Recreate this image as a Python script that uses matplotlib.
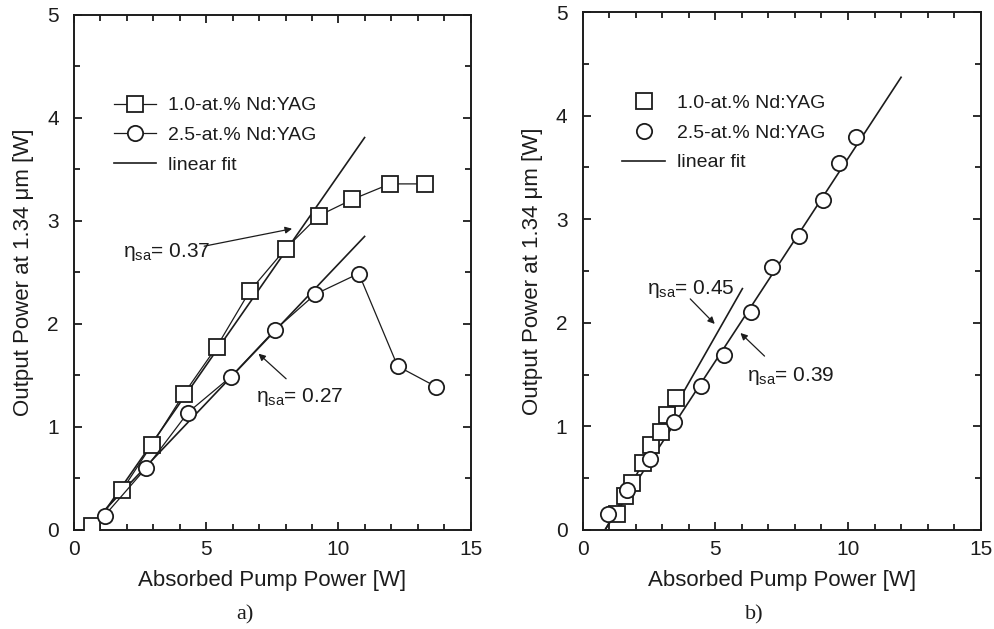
"""Output power vs absorbed pump power for two Nd:YAG doping levels."""

import numpy as np
import matplotlib.pyplot as plt
from matplotlib.ticker import MultipleLocator

plt.rcParams['font.family'] = ['Liberation Sans', 'DejaVu Sans']
plt.rcParams['mathtext.default'] = 'regular'

INK = '#1c1c1c'

# panel a) data
a_sq_x = [0.68, 1.83, 2.95, 4.15, 5.40, 6.65, 8.00, 9.25, 10.53, 11.95, 13.26]
a_sq_y = [0.04, 0.39, 0.83, 1.32, 1.78, 2.32, 2.73, 3.05, 3.21, 3.36, 3.36]
a_ci_x = [1.16, 2.72, 4.31, 5.94, 7.59, 9.13, 10.77, 12.24, 13.70]
a_ci_y = [0.14, 0.60, 1.14, 1.49, 1.94, 2.29, 2.49, 1.59, 1.39]
a_fit1_x = [0.75, 10.99]
a_fit1_y = [0.03, 3.81]
a_fit2_x = [1.00, 10.99]
a_fit2_y = [0.15, 2.85]

# panel b) data
b_sq_x = [1.28, 1.60, 1.85, 2.26, 2.58, 2.94, 3.19, 3.52]
b_sq_y = [0.15, 0.33, 0.45, 0.65, 0.82, 0.95, 1.11, 1.27]
b_ci_x = [0.97, 1.66, 2.54, 3.44, 4.46, 5.33, 6.33, 7.12, 8.17, 9.07, 9.67, 10.30]
b_ci_y = [0.15, 0.39, 0.69, 1.04, 1.39, 1.69, 2.10, 2.54, 2.84, 3.19, 3.54, 3.79]
b_fit1_x = [0.84, 6.02]
b_fit1_y = [0.0, 2.33]
b_fit2_x = [0.84, 12.0]
b_fit2_y = [0.0, 4.37]

labels = ['1.0-at.% Nd:YAG', '2.5-at.% Nd:YAG', 'linear fit']
ylabel = 'Output Power at 1.34 \u03bcm [W]'
xlabel = 'Absorbed Pump Power [W]'

fig = plt.figure(figsize=(9.94, 6.29), dpi=100)
ax1 = fig.add_axes([0.0744, 0.1574, 0.3991, 0.8188])
ax2 = fig.add_axes([0.5862, 0.1574, 0.4004, 0.8235])


def style_axes(ax):
    ax.set_xlim(0, 15)
    ax.set_ylim(0, 5)
    ax.xaxis.set_major_locator(MultipleLocator(5))
    ax.xaxis.set_minor_locator(MultipleLocator(1))
    ax.yaxis.set_major_locator(MultipleLocator(1))
    ax.yaxis.set_minor_locator(MultipleLocator(0.5))
    ax.tick_params(which='both', direction='in', top=True, right=True,
                   width=1.3, colors=INK, labelsize=15)
    ax.tick_params(which='major', length=6, pad=7)
    ax.tick_params(axis='y', which='major', pad=11)
    ax.tick_params(which='minor', length=4)
    for s in ax.spines.values():
        s.set_linewidth(1.4)
        s.set_color(INK)
    ax.set_xlabel(xlabel, fontsize=16, color=INK, labelpad=8)
    ax.set_ylabel(ylabel, fontsize=16, color=INK, labelpad=9)


def eta(ax, x, y, val):
    ax.text(x, y, r'$\eta_{sa}$= ' + val, fontsize=15, va='center', color=INK)


def arrow(ax, start, end):
    ax.annotate('', xy=end, xytext=start,
                arrowprops=dict(arrowstyle='-|>', color=INK, lw=0.9,
                                mutation_scale=10))


def legend(ax):
    ax.legend(loc='upper left', bbox_to_anchor=(0.10, 0.841), frameon=False,
              fontsize=14, handlelength=2.2, handletextpad=0.6,
              labelspacing=0.62, borderpad=0, borderaxespad=0, labelcolor=INK)


mk = dict(markersize=11, markerfacecolor='white', markeredgecolor=INK,
          markeredgewidth=1.3, color=INK)

# panel a
ax1.plot(a_sq_x, a_sq_y, marker='s', lw=0.9, label=labels[0], zorder=3, **mk)
ax1.plot(a_ci_x, a_ci_y, marker='o', lw=0.9, label=labels[1], zorder=3, **mk)
ax1.plot(a_fit1_x, a_fit1_y, color=INK, lw=1.2, label=labels[2], zorder=2)
ax1.plot(a_fit2_x, a_fit2_y, color=INK, lw=1.2, zorder=2)
style_axes(ax1)
eta(ax1, 1.85, 2.70, '0.37')
arrow(ax1, (4.82, 2.75), (8.35, 2.93))
eta(ax1, 6.90, 1.29, '0.27')
arrow(ax1, (8.10, 1.45), (6.90, 1.73))
legend(ax1)

# panel b
ax2.plot(b_sq_x, b_sq_y, marker='s', ls='none', label=labels[0], zorder=3, **mk)
ax2.plot(b_ci_x, b_ci_y, marker='o', ls='none', label=labels[1], zorder=4, **mk)
ax2.plot(b_fit1_x, b_fit1_y, color=INK, lw=1.2, label=labels[2], zorder=2)
ax2.plot(b_fit2_x, b_fit2_y, color=INK, lw=1.2, zorder=2)
style_axes(ax2)
eta(ax2, 2.41, 2.33, '0.45')
arrow(ax2, (3.98, 2.25), (5.05, 1.97))
eta(ax2, 6.18, 1.49, '0.39')
arrow(ax2, (6.93, 1.66), (5.87, 1.92))
legend(ax2)

fig.text(245 / 994, 0.022, 'a)', fontsize=16, family='Liberation Serif',
         ha='center', va='center', color=INK)
fig.text(754 / 994, 0.022, 'b)', fontsize=16, family='Liberation Serif',
         ha='center', va='center', color=INK)

fig.savefig('out.png', dpi=100)
